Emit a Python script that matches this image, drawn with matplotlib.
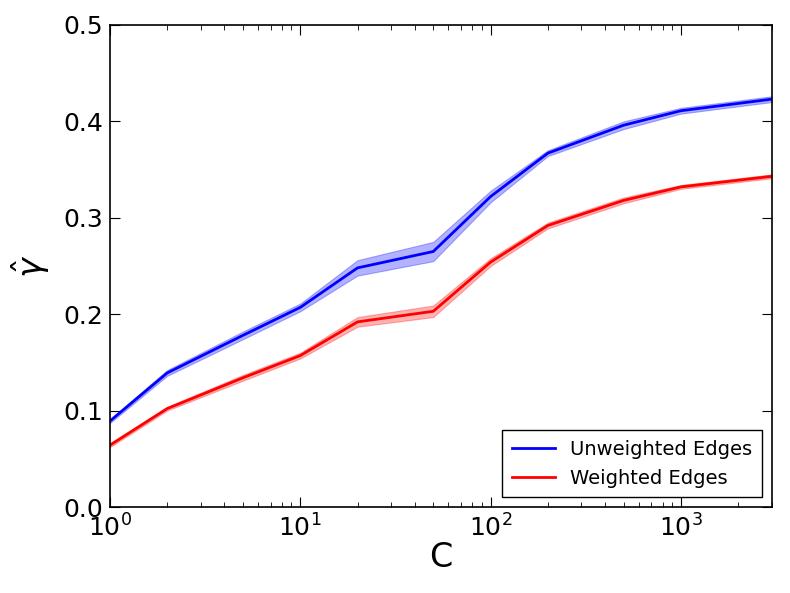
import numpy as np
import matplotlib
matplotlib.use("Agg")
import matplotlib.pyplot as plt

# 数据：C 取值与两组 gamma 估计（均值与置信带半宽）
c_vals = [1, 2, 5, 10, 20, 50, 100, 200, 500, 1000, 3000]
unweighted = [0.089, 0.139, 0.178, 0.207, 0.248, 0.265, 0.322, 0.367, 0.396, 0.411, 0.423]
unweighted_err = [0.002, 0.003, 0.004, 0.004, 0.008, 0.010, 0.006, 0.003, 0.004, 0.003, 0.003]
weighted = [0.064, 0.102, 0.134, 0.157, 0.192, 0.203, 0.254, 0.292, 0.318, 0.332, 0.343]
weighted_err = [0.002, 0.002, 0.003, 0.003, 0.005, 0.006, 0.004, 0.003, 0.003, 0.002, 0.002]

plt.rcParams["font.family"] = ["DejaVu Sans"]
plt.rcParams["mathtext.fontset"] = "dejavusans"

fig = plt.figure(figsize=(7.9, 5.93), dpi=100)
ax = fig.add_axes([0.139, 0.145, 0.838, 0.813])

x = np.array(c_vals)
for y, e, col, lab in [(unweighted, unweighted_err, "blue", "Unweighted Edges"),
                       (weighted, weighted_err, "red", "Weighted Edges")]:
    y = np.array(y)
    e = np.array(e)
    ax.fill_between(x, y - e, y + e, color=col, alpha=0.3, linewidth=0.8)
    ax.plot(x, y, color=col, linewidth=2, label=lab)

ax.set_xscale("log")
ax.set_xlim(1, 3000)
ax.set_ylim(0, 0.5)
ax.set_yticks([0.0, 0.1, 0.2, 0.3, 0.4, 0.5])
ax.set_yticklabels(["0.0", "0.1", "0.2", "0.3", "0.4", "0.5"])
ax.tick_params(which="both", direction="in", top=True, right=True, labelsize=18)
ax.tick_params(which="major", length=7, pad=5)
ax.tick_params(which="minor", length=3.5)
for s in ax.spines.values():
    s.set_linewidth(1.2)

ax.set_xlabel("C", fontsize=24, labelpad=0)
ax.set_ylabel(r"$\hat{\gamma}$", fontsize=24, labelpad=8)

leg = ax.legend(loc="lower right", fontsize=14, fancybox=False, framealpha=1,
                edgecolor="black", handlelength=2.2, borderpad=0.5)
leg.get_frame().set_linewidth(1.0)

fig.savefig("out.png", dpi=100)
